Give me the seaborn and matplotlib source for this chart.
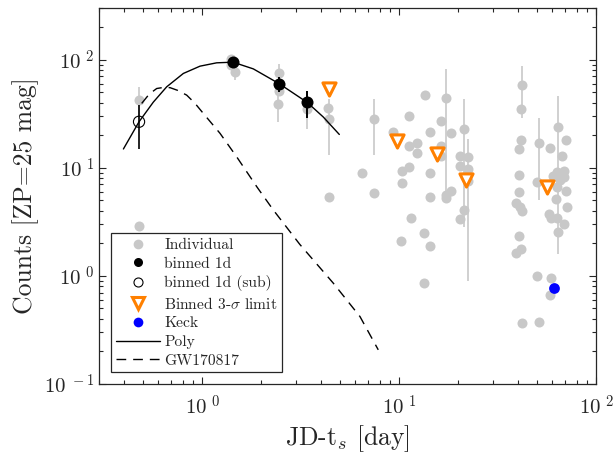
import numpy as np
import pandas as pd
import matplotlib
matplotlib.use("Agg")
import matplotlib.pyplot as plt
from matplotlib.lines import Line2D
from matplotlib.ticker import FixedLocator, FixedFormatter, LogLocator, NullFormatter
import seaborn as sns

# ---------------- data ----------------
ind_x = [0.479, 0.479, 1.40, 1.47, 1.40, 2.47, 2.47, 2.43, 3.40, 4.37, 4.43, 4.43,
         7.47, 6.49, 7.47, 9.36, 11.3, 11.3, 12.3, 12.3, 10.35, 11.3, 10.35, 11.5,
         13.5, 14.4, 16.3, 16.3, 16.3, 14.4, 14.4, 17.3, 18.4, 17.3, 17.3, 18.4,
         21.3, 20.4, 22.4, 20.4, 22.4, 22.4, 21.3, 20.4, 10.3, 13.4, 14.4, 13.4,
         42.3, 41.5, 41.5, 40.5, 40.5, 40.5, 39.3, 41.0, 42.3, 40.5, 41.8, 39.3, 42.3,
         51.4, 50.4, 50.4, 51.4, 58.5, 64.4, 70.4, 67.5, 63.1, 68.8, 60.6, 68.8, 65.6,
         63.1, 70.4, 62.6, 71.6, 57.5, 59.1, 63.1, 68.8, 64.4, 59.2, 58.5]
ind_y = [42.2, 2.9, 102, 77, 90, 75.5, 51.4, 38.5, 35, 36, 28, 5.4,
         28, 9.0, 5.8, 21.5, 30, 16, 17, 13.7, 9.3, 10.2, 7.2, 3.43,
         46.9, 21.4, 27, 16, 12.8, 9.0, 5.4, 43.7, 20.9, 5.6, 5.2, 6.1,
         22.8, 12.9, 12.6, 10.4, 9.7, 7.5, 4.1, 3.34, 2.09, 2.48, 1.88, 0.857,
         58, 34.6, 18, 15, 8.6, 6.0, 4.7, 4.37, 4.0, 2.36, 1.76, 1.62, 0.366,
         16.8, 7.3, 0.99, 0.378, 15.3, 23.6, 18, 12.8, 9.2, 9.3, 8.4, 8.15, 7.7,
         6.7, 6.1, 5.1, 4.3, 3.73, 3.41, 3.41, 3.02, 2.56, 0.95, 0.668]
ind_err = [14, 0, 0, 12, 0, 16, 0, 12, 12, 0, 15, 0,
           15, 0, 0, 0, 0, 0, 0, 0, 0, 0, 0, 0,
           0, 0, 0, 0, 0, 0, 0, 38, 0, 0, 0, 0,
           20, 0, 0, 0, 8.8, 0, 0, 0, 0, 0, 0, 0,
           29, 0, 0, 0, 0, 0, 0, 0, 0, 0, 0, 0, 0,
           11.8, 0, 0, 0, 0, 22, 0, 0, 0, 0, 0, 0, 0,
           0, 0, 0, 0, 0, 0, 0, 0, 0, 0, 0]

bin_x = [1.44, 2.47, 3.43]
bin_y = [94, 59.7, 40.2]
bin_err = [8, 9.5, 11.5]

sub_x = [0.479]
sub_y = [26.6]
sub_err = [11.7]

lim_x = [4.43, 9.73, 15.6, 21.9, 56.2]
lim_y = [54, 17.8, 13.4, 7.7, 6.7]

keck_x = [61.0]
keck_y = [0.78]

poly_x = [0.399, 0.479, 0.566, 0.662, 0.804, 0.977, 1.187, 1.437, 1.822, 2.470, 3.425, 4.130, 4.979]
poly_y = [14.9, 26.6, 40.4, 56.0, 74.4, 86.9, 93.3, 94.6, 82.0, 59.7, 40.1, 29.4, 20.3]

gw_x = [0.494, 0.54, 0.589, 0.62, 0.688, 0.75, 0.836, 0.92, 1.015, 1.234, 1.50, 1.896,
        2.30, 3.14, 4.64, 6.34, 7.85]
gw_y = [39.3, 48.0, 54.0, 54.8, 55.0, 52.0, 46.9, 39.5, 31.8, 20.8, 12.6, 6.68,
        4.07, 1.95, 0.856, 0.42, 0.207]

labels = ["Individual", "binned 1d", "binned 1d (sub)", r"Binned 3-$\sigma$ limit",
          "Keck", "Poly", "GW170817"]

# ---------------- style ----------------
sns.set_style("ticks")
plt.rcParams["font.family"] = ["cmr10", "DejaVu Serif"]
plt.rcParams["mathtext.fontset"] = "cm"
plt.rcParams["axes.formatter.use_mathtext"] = True
plt.rcParams["axes.unicode_minus"] = False

GREY = "#c8c8c8"
ORANGE = "#ff8000"
BLUE = "#0000ff"

fig = plt.figure(figsize=(6.15, 4.58), dpi=100)
ax = fig.add_axes([0.161, 0.1616, 0.808, 0.821])

ind = pd.DataFrame({"x": ind_x, "y": ind_y, "err": ind_err})
eb = ind[ind["err"] > 0]
ax.errorbar(eb["x"], eb["y"], yerr=eb["err"], fmt="none", ecolor=GREY, elinewidth=1.2,
            capsize=0, zorder=1)
sns.scatterplot(data=ind, x="x", y="y", ax=ax, color=GREY, s=52, linewidth=0,
                zorder=2, legend=False)

# model curves
sns.lineplot(x=poly_x, y=poly_y, ax=ax, color="black", linewidth=1.0, zorder=4,
             estimator=None, sort=False)
sns.lineplot(x=gw_x, y=gw_y, ax=ax, color="black", linewidth=1.0, zorder=4,
             estimator=None, sort=False)
ax.lines[-1].set_linestyle((0, (7, 5)))

# binned points
ax.errorbar(bin_x, bin_y, yerr=bin_err, fmt="none", ecolor="black", elinewidth=1.4,
            capsize=0, zorder=5)
sns.scatterplot(x=bin_x, y=bin_y, ax=ax, color="black", s=75, linewidth=0, zorder=6,
                legend=False)
ax.errorbar(sub_x, sub_y, yerr=sub_err, fmt="none", ecolor="black", elinewidth=1.2,
            capsize=0, zorder=5)
ax.scatter(sub_x, sub_y, s=65, facecolors="none", edgecolors="black", linewidths=0.8,
           zorder=6)

# limits
ax.scatter(lim_x, lim_y, marker="v", s=90, facecolors="white", edgecolors=ORANGE,
           linewidths=2.2, zorder=7)

# Keck
sns.scatterplot(x=keck_x, y=keck_y, ax=ax, color=BLUE, s=60, linewidth=0, zorder=7,
                legend=False)

ax.set_xscale("log")
ax.set_yscale("log")
ax.set_xlim(0.3, 100)
ax.set_ylim(0.1, 300)

ax.xaxis.set_major_locator(FixedLocator([1, 10, 100]))
ax.xaxis.set_major_formatter(FixedFormatter([r"$10^{\ 0}$", r"$10^{\ 1}$", r"$10^{\ 2}$"]))
ax.yaxis.set_major_locator(FixedLocator([0.1, 1, 10, 100]))
ax.yaxis.set_major_formatter(FixedFormatter([r"$10^{\ -1}$", r"$10^{\ 0}$", r"$10^{\ 1}$", r"$10^{\ 2}$"]))
ax.xaxis.set_minor_locator(LogLocator(base=10, subs=np.arange(2, 10), numticks=20))
ax.yaxis.set_minor_locator(LogLocator(base=10, subs=np.arange(2, 10), numticks=20))
ax.xaxis.set_minor_formatter(NullFormatter())
ax.yaxis.set_minor_formatter(NullFormatter())

ax.tick_params(which="both", direction="in", top=True, right=True, color="#262626",
               labelsize=15, width=0.8)
ax.tick_params(which="major", length=5)
ax.tick_params(which="minor", length=2.8)
ax.tick_params(axis="x", pad=8)
for s in ax.spines.values():
    s.set_visible(True)
    s.set_linewidth(0.9)
    s.set_color("#262626")

ax.set_xlabel(r"JD-t$_s$ [day]", fontsize=18.5, labelpad=3)
ax.set_ylabel("Counts [ZP=25 mag]", fontsize=18.5, labelpad=3)

handles = [
    Line2D([], [], linestyle="none", marker="o", markersize=7, markerfacecolor=GREY,
           markeredgewidth=0),
    Line2D([], [], linestyle="none", marker="o", markersize=6.5, markerfacecolor="black",
           markeredgewidth=0),
    Line2D([], [], linestyle="none", marker="o", markersize=6.5, markerfacecolor="none",
           markeredgecolor="black", markeredgewidth=0.8),
    Line2D([], [], linestyle="none", marker="v", markersize=8.5, markerfacecolor="white",
           markeredgecolor=ORANGE, markeredgewidth=2.2),
    Line2D([], [], linestyle="none", marker="o", markersize=7, markerfacecolor=BLUE,
           markeredgewidth=0),
    Line2D([], [], color="black", linewidth=1.0),
    Line2D([], [], color="black", linewidth=1.0, linestyle=(0, (7, 5))),
]
leg = ax.legend(handles, labels, loc="lower left", bbox_to_anchor=(0.025, 0.031),
                fontsize=11.2, frameon=True, fancybox=False, framealpha=1,
                edgecolor="#262626", handlelength=2.8, handletextpad=0.3,
                labelspacing=0.3, borderpad=0.3, borderaxespad=0)
leg.get_frame().set_linewidth(0.9)

fig.savefig("out.png", dpi=100)
